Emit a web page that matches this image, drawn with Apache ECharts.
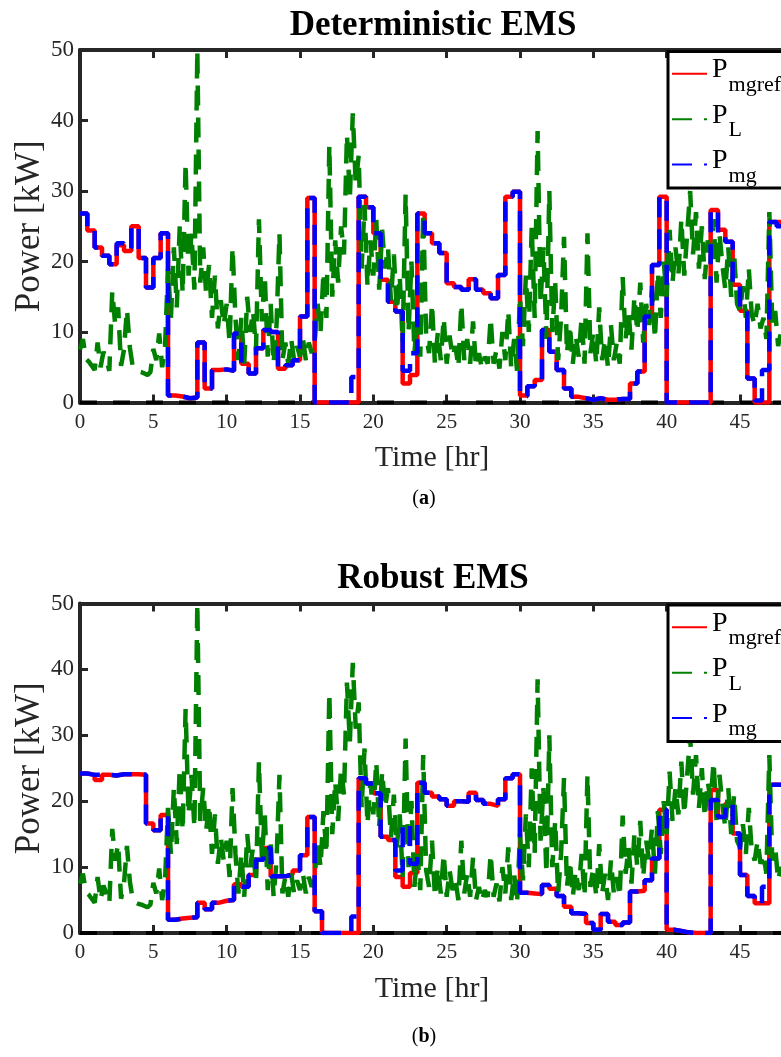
<!DOCTYPE html>
<html>
<head>
<meta charset="utf-8">
<script src="https://cdn.jsdelivr.net/npm/echarts@6/dist/echarts.min.js"></script>
<style>
  html, body { margin: 0; padding: 0; background: #fff; }
  #chart { width: 781px; height: 1057px; }
</style>
</head>
<body>
<div id="chart"></div>
<script>
// half-hour set points, 96 per run
const stepHr = 0.5;
const detRef = [
  26.8, 24.4, 22.0, 20.8, 19.6, 22.3, 21.5, 25.0, 20.5, 16.3, 20.5, 24.0,
  1.0, 0.85, 0.6, 0.7, 8.5, 2.0, 4.6, 4.7, 4.5, 9.8, 5.5, 4.1,
  7.7, 10.3, 10.0, 4.8, 5.3, 6.0, 12.2, 29.0, 0, 0, 0, 0,
  0, 0, 29.2, 27.7, 24.0, 17.4, 14.3, 12.9, 2.7, 3.9, 26.8, 24.0,
  22.6, 21.2, 16.9, 16.4, 16.0, 17.5, 16.0, 15.5, 14.8, 18.1, 29.2, 29.9,
  1.0, 2.3, 3.2, 10.3, 7.2, 4.6, 2.0, 0.8, 0.6, 0.4, 0.6, 0.4,
  0.4, 0.5, 0.5, 2.7, 4.4, 12.2, 19.5, 29.2, 0, 0, 0, 0,
  0, 0, 27.3, 24.5, 22.8, 16.7, 13.0, 3.4, 0, 0, 25.6, 25.6
];
const detMg = [
  26.8, 24.4, 22.0, 20.8, 19.6, 22.6, 21.9, 25.0, 20.5, 16.3, 20.5, 24.0,
  1.0, 0.85, 0.6, 0.7, 8.5, 2.0, 4.6, 4.7, 4.5, 9.8, 5.5, 4.1,
  7.7, 10.3, 10.0, 4.8, 5.3, 6.0, 12.2, 29.0, 0, 0, 0, 0,
  0, 3.6, 29.2, 27.7, 24.0, 17.4, 14.3, 12.9, 4.5, 7.0, 26.8, 24.0,
  22.6, 21.2, 16.9, 16.4, 16.0, 17.5, 16.0, 15.5, 14.8, 18.1, 29.2, 29.9,
  0.9, 2.3, 3.2, 10.3, 7.2, 4.6, 2.0, 0.8, 0.6, 0.4, 0.6, 0.4,
  0.4, 0.5, 0.5, 2.7, 4.4, 12.2, 19.5, 29.2, 0, 0, 0, 0,
  0, 0, 27.3, 23.5, 22.8, 16.7, 13.0, 3.4, 0.3, 4.6, 25.6, 25.0
];
const robRef = [
  24.2, 24.0, 23.2, 24.0, 23.9, 24.1, 24.1, 24.1, 24.0, 16.6, 15.6, 17.9,
  2.0, 2.2, 2.3, 2.4, 4.6, 3.6, 4.6, 4.9, 5.0, 7.4, 7.0, 8.8,
  11.1, 12.9, 8.6, 8.6, 8.9, 9.5, 11.8, 17.6, 3.3, 0, 0, 0,
  0, 0, 23.5, 22.7, 21.2, 14.6, 14.1, 8.5, 7.0, 9.1, 22.8, 21.3,
  20.7, 20.3, 19.3, 20.0, 19.9, 21.3, 20.2, 19.6, 19.3, 20.3, 23.5, 24.1,
  6.1, 6.0, 5.9, 7.3, 6.7, 5.6, 4.0, 3.0, 2.9, 1.5, 0.5, 2.9,
  1.7, 1.2, 1.6, 6.3, 6.4, 8.0, 11.3, 18.7, 0.5, 0.3, 0.1, 0,
  0, 0, 21.7, 17.6, 19.6, 15.1, 8.8, 5.6, 4.5, 4.5, 22.5, 22.5
];
const robMg = [
  24.2, 24.0, 24.0, 24.0, 23.9, 24.1, 24.1, 24.1, 24.0, 16.6, 15.6, 17.9,
  2.0, 2.2, 2.3, 2.4, 4.6, 3.6, 4.6, 4.9, 5.0, 7.4, 7.0, 8.8,
  11.1, 12.9, 8.6, 8.6, 8.9, 9.5, 11.8, 17.6, 3.3, 0, 0, 0,
  0, 2.5, 23.5, 22.7, 21.2, 14.6, 14.1, 9.5, 16.5, 10.5, 22.8, 21.3,
  20.7, 20.3, 19.3, 20.0, 19.9, 21.3, 20.2, 19.6, 19.3, 20.3, 23.5, 24.1,
  6.1, 6.0, 5.9, 7.3, 6.7, 5.6, 4.0, 3.0, 2.9, 1.5, 0.5, 2.9,
  1.7, 1.2, 1.6, 6.3, 6.4, 8.0, 11.3, 18.7, 0.5, 0.3, 0.1, 0,
  0, 0, 20.2, 17.6, 19.6, 15.1, 8.8, 5.6, 4.5, 7.0, 22.5, 22.5
];
// load, one sample every 0.2 h (same for both runs)
const loadStepHr = 0.2;
const loadP = [
  7.5, 9.0, 6.2, 5.8, 5.2,   4.6, 8.5, 5.0, 7.2, 6.0,   4.5, 15.8, 11.0, 13.5, 5.2,
  7.5, 13.2, 7.8, 5.0, 4.6,  4.4, 4.3, 4.1, 3.9, 4.3,   7.6, 6.0, 9.8, 5.0, 8.0,
  19.0, 12.0, 22.0, 13.5, 25.0,  15.5, 34.0, 18.0, 24.0, 16.0,  50.0, 17.0, 22.0, 15.5, 19.5,
  12.0, 18.0, 10.5, 14.5, 11.0,  14.0, 8.5, 22.0, 12.0, 6.0,  12.0, 5.5, 15.0, 10.0, 13.0,
  7.5, 26.0, 11.5, 18.0, 6.5,  14.0, 5.5, 11.0, 24.0, 6.0,  8.5, 5.5, 9.0, 6.0, 8.0,
  6.5, 9.0, 6.0, 8.5, 7.0,   8.5, 14.0, 10.0, 18.5, 12.0,  36.5, 15.0, 23.0, 17.0, 25.0,
  21.0, 38.0, 29.0, 41.0, 31.0,  35.0, 19.0, 28.0, 16.5, 23.0,  18.0, 26.0, 16.0, 24.5, 19.0,
  22.0, 14.5, 21.0, 13.0, 18.0,  8.5, 29.5, 10.0, 20.0, 7.0,  12.0, 6.5, 27.0, 9.5, 7.0,
  14.0, 5.5, 10.0, 6.0, 12.0,  5.5, 9.5, 6.5, 8.0, 5.0,  14.0, 6.0, 9.0, 5.5, 11.5,
  5.0, 7.0, 4.8, 6.5, 5.5,   12.0, 5.5, 7.5, 4.8, 10.0,  6.0, 13.0, 5.0, 9.0, 4.5,
  15.0, 8.0, 18.0, 10.0, 25.0,  12.0, 38.5, 14.0, 22.0, 9.0,  30.0, 10.0, 17.0, 6.0, 12.0,
  23.5, 7.0, 11.0, 5.5, 9.5,  6.5, 12.0, 5.5, 24.0, 7.0,  10.0, 5.5, 13.5, 6.0, 9.0,
  5.0, 11.0, 6.0, 8.5, 5.5,   17.8, 9.0, 13.0, 7.5, 15.0,  10.0, 17.0, 8.5, 14.0, 11.0,
  16.0, 9.0, 18.5, 12.0, 20.0,  15.0, 24.5, 17.0, 22.0, 18.0,  26.0, 18.0, 24.0, 30.0, 21.0,
  27.0, 19.0, 25.0, 17.5, 23.0,  20.0, 26.0, 17.0, 24.0, 19.5,  16.0, 22.0, 15.0, 21.0, 14.0,
  13.0, 16.5, 12.0, 19.0, 12.5,  11.0, 14.0, 10.5, 12.0, 9.0,  27.0, 11.0, 13.0, 8.0, 10.0,
  9.0
];
// black dashed zero reference along the time axis
const zeroHours = [0, 48];
const zeroVals = [0, 0];

const titles = ['Deterministic EMS', 'Robust EMS'];
const captions = ['a', 'b'];
const legendNames = ['P_mgref', 'P_L', 'P_mg'];
const legendSubs = { P_mgref: 'mgref', P_L: 'L', P_mg: 'mg' };

function stepData(vals) {
  const pts = vals.map((v, k) => [k * stepHr, v]);
  pts.push([vals.length * stepHr, vals[vals.length - 1]]);
  return pts;
}
function loadData(vals) {
  return vals.map((v, i) => [+(i * loadStepHr).toFixed(2), v]);
}

const serif = 'Liberation Serif';
const axisColor = '#262626';
const dash = [20, 12];
const grids = [
  { left: 80, top: 50, width: 704, height: 352.5, outerBoundsMode: 'none' },
  { left: 80, top: 603.5, width: 704, height: 329.5, outerBoundsMode: 'none' }
];

const xAxis = [], yAxis = [], series = [], legend = [], graphic = [];
[[detRef, detMg], [robRef, robMg]].forEach((pair, g) => {
  xAxis.push({
    gridIndex: g, type: 'value', min: 0, max: 48, interval: 5, position: 'bottom',
    axisLine: { show: true, onZero: false, lineStyle: { color: axisColor, width: 4 } },
    axisTick: { show: true, inside: true, length: 8, lineStyle: { color: axisColor, width: 3 } },
    axisLabel: { margin: 9, color: axisColor, fontSize: 21, fontFamily: serif, showMaxLabel: false },
    splitLine: { show: false },
    name: 'Time [hr]', nameLocation: 'middle', nameGap: 41, nameMoveOverlap: false,
    nameTextStyle: { color: axisColor, fontSize: 30, fontFamily: serif }
  });
  xAxis.push({
    gridIndex: g, type: 'value', min: 0, max: 48, interval: 5, position: 'top',
    axisLine: { show: true, onZero: false, lineStyle: { color: axisColor, width: 4 } },
    axisTick: { show: true, inside: true, length: 8, lineStyle: { color: axisColor, width: 3 } },
    axisLabel: { show: false }, splitLine: { show: false }
  });
  yAxis.push({
    gridIndex: g, type: 'value', min: 0, max: 50, interval: 10,
    axisLine: { show: true, onZero: false, lineStyle: { color: axisColor, width: 4 } },
    axisTick: { show: true, inside: true, length: 8, lineStyle: { color: axisColor, width: 3 } },
    axisLabel: { margin: 6, color: axisColor, fontSize: 23, fontFamily: serif },
    splitLine: { show: false },
    name: 'Power [kW]', nameLocation: 'middle', nameGap: 33, nameMoveOverlap: false,
    nameTextStyle: { color: axisColor, fontSize: 35, fontFamily: serif }
  });
  series.push({
    name: 'zero', type: 'line', xAxisIndex: g * 2, yAxisIndex: g,
    data: zeroHours.map((t, i) => [t, zeroVals[i]]), symbol: 'none', z: 1, silent: true,
    lineStyle: { color: '#000', width: 4, type: [17, 16] }
  });
  series.push({
    name: 'P_mgref', type: 'line', xAxisIndex: g * 2, yAxisIndex: g, step: 'end',
    data: stepData(pair[0]), symbol: 'none', z: 2,
    lineStyle: { color: '#ff0000', width: 4.5 }, itemStyle: { color: '#ff0000' }
  });
  series.push({
    name: 'P_L', type: 'line', xAxisIndex: g * 2, yAxisIndex: g,
    data: loadData(loadP), symbol: 'none', z: 3,
    lineStyle: { color: '#008000', width: 4.5, type: dash }, itemStyle: { color: '#008000' }
  });
  series.push({
    name: 'P_mg', type: 'line', xAxisIndex: g * 2, yAxisIndex: g, step: 'end',
    data: stepData(pair[1]), symbol: 'none', z: 4,
    lineStyle: { color: '#0000ff', width: 4.5, type: dash }, itemStyle: { color: '#0000ff' }
  });
  const top = grids[g].top;
  legend.push({
    orient: 'vertical', left: 668, top: top + 1.5,
    padding: [0, 8, 1, 3], itemGap: 0.8, itemWidth: 35, itemHeight: 4,
    borderColor: '#000', borderWidth: 3, backgroundColor: '#fff', borderRadius: 0,
    selectedMode: false, data: legendNames,
    itemStyle: { opacity: 0 },
    formatter: name => '{p|P}{s|' + legendSubs[name] + '}',
    textStyle: {
      color: '#000',
      rich: {
        p: { fontSize: 28, fontFamily: serif, color: '#000', lineHeight: 30, padding: [0, 0, 7.5, 0], verticalAlign: 'middle' },
        s: { fontSize: 22, fontFamily: serif, color: '#000', lineHeight: 22, padding: [22.6, 0, 0, 1], verticalAlign: 'middle' }
      }
    }
  });
  graphic.push({
    type: 'text', x: 433, y: top - 24.5,
    style: { text: titles[g], fill: '#000', font: 'bold 35px "Liberation Serif"', align: 'center', verticalAlign: 'middle' }
  });
  graphic.push({
    type: 'text', x: 424, y: top + (g === 0 ? 449 : 433),
    style: {
      text: '{n|(}{b|' + captions[g] + '}{n|)}', align: 'center', verticalAlign: 'middle',
      rich: {
        n: { fontSize: 20, fontFamily: serif, fill: '#000' },
        b: { fontSize: 20, fontFamily: serif, fontWeight: 'bold', fill: '#000' }
      }
    }
  });
});

const chart = echarts.init(document.getElementById('chart'), null, { renderer: 'canvas' });
chart.setOption({
  animation: false,
  backgroundColor: '#fff',
  grid: grids,
  xAxis: xAxis,
  yAxis: yAxis,
  legend: legend,
  series: series,
  graphic: graphic
});
</script>
</body>
</html>
